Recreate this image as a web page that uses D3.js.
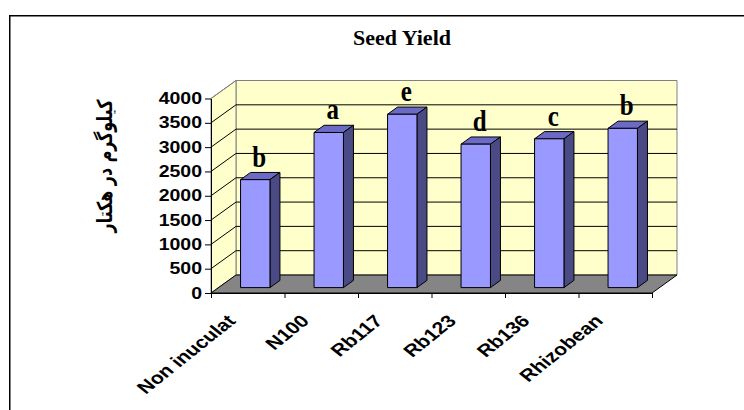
<!DOCTYPE html>
<html>
<head>
<meta charset="utf-8">
<script src="https://cdn.jsdelivr.net/npm/d3@7"></script>
<style>
  body { margin: 0; background: #fff; }
  svg { display: block; }
</style>
</head>
<body>
<script>
// seed yield per treatment (kg/ha)
var categories = ["Non inuculat", "N100", "Rb117", "Rb123", "Rb136", "Rhizobean"];
var yieldValues = [2220, 3190, 3565, 2950, 3060, 3275];
var groupLetters = ["b", "a", "e", "d", "c", "b"];
var yTicks = [0, 500, 1000, 1500, 2000, 2500, 3000, 3500, 4000];

var w = 744;
var h = 410;

// plot box (front edge) and 3d depth offset
var plotLeft = 211, plotRight = 652, plotBottom = 293, plotTop = 98.5;
var depthX = 25, depthY = -18;
var stretch = 1.3;

var svg = d3.select("body")
  .append("svg")
  .attr("width", w)
  .attr("height", h);

// outer frame, only top and left are inside the window
svg.append("rect")
  .attr("x", 9.75)
  .attr("y", 15.75)
  .attr("width", 800)
  .attr("height", 500)
  .attr("fill", "none")
  .attr("stroke", "#000")
  .attr("stroke-width", 1.5);

svg.append("text")
  .attr("x", 402)
  .attr("y", 45)
  .attr("text-anchor", "middle")
  .style("font-family", "'Liberation Serif', 'Times New Roman', serif")
  .style("font-weight", "bold")
  .style("font-size", "22px")
  .text("Seed Yield");

var xScale = d3.scaleBand()
  .domain(categories)
  .range([plotLeft, plotRight]);

var yScale = d3.scaleLinear()
  .domain([0, 4000])
  .range([plotBottom, plotTop]);

function pt(x, y, f) {
  return [x + depthX * f, y + depthY * f];
}

function poly(points) {
  return points.map(function(p) { return p.join(","); }).join(" ");
}

// back wall
svg.append("polygon")
  .attr("points", poly([pt(plotLeft, yScale(4000), 1), pt(plotRight, yScale(4000), 1),
                        pt(plotRight, yScale(0), 1), pt(plotLeft, yScale(0), 1)]))
  .attr("fill", "#ffffcc")
  .attr("stroke", "#808080");

// side wall
svg.append("polygon")
  .attr("points", poly([pt(plotLeft, yScale(4000), 0), pt(plotLeft, yScale(4000), 1),
                        pt(plotLeft, yScale(0), 1), pt(plotLeft, yScale(0), 0)]))
  .attr("fill", "#ffffcc")
  .attr("stroke", "#808080");

// gridlines on both walls
yTicks.slice(1).forEach(function(t) {
  var a = pt(plotLeft, yScale(t), 0), b = pt(plotLeft, yScale(t), 1), c = pt(plotRight, yScale(t), 1);
  svg.append("polyline")
    .attr("points", poly([a, b, c]))
    .attr("fill", "none")
    .attr("stroke", t == 4000 ? "#808080" : "#000")
    .attr("stroke-width", 1);
});

// floor
svg.append("polygon")
  .attr("points", poly([pt(plotLeft, yScale(0), 0), pt(plotRight, yScale(0), 0),
                        pt(plotRight, yScale(0), 1), pt(plotLeft, yScale(0), 1)]))
  .attr("fill", "#858585")
  .attr("stroke", "#000")
  .attr("stroke-width", 1);

// bars: front face at 30% depth, 40% deep
var f0 = 0.3, f1 = 0.7;
var barW = xScale.bandwidth() * 0.4;

var bars = svg.selectAll(".bar")
  .data(yieldValues)
  .enter()
  .append("g")
  .attr("class", "bar");

bars.each(function(v, i) {
  var g = d3.select(this);
  var x0 = xScale(categories[i]) + xScale.bandwidth() / 2 - barW / 2;
  var x1 = x0 + barW;
  var yb = yScale(0), yt = yScale(v);

  // top
  g.append("polygon")
    .attr("points", poly([pt(x0, yt, f0), pt(x1, yt, f0), pt(x1, yt, f1), pt(x0, yt, f1)]))
    .attr("fill", "#6b6bc6").attr("stroke", "#000");
  // side
  g.append("polygon")
    .attr("points", poly([pt(x1, yt, f0), pt(x1, yt, f1), pt(x1, yb, f1), pt(x1, yb, f0)]))
    .attr("fill", "#4a4a84").attr("stroke", "#000");
  // front
  g.append("polygon")
    .attr("points", poly([pt(x0, yt, f0), pt(x1, yt, f0), pt(x1, yb, f0), pt(x0, yb, f0)]))
    .attr("fill", "#9999ff").attr("stroke", "#000");

  // group letter
  var c = pt(x0 + barW / 2 + 4, yt, f0);
  g.append("text")
    .attr("transform", "translate(" + c[0] + "," + (c[1] - 13) + ") scale(1,1.17)")
    .attr("text-anchor", "middle")
    .style("font-family", "'Liberation Serif', 'Times New Roman', serif")
    .style("font-weight", "bold")
    .style("font-size", "25px")
    .text(groupLetters[i]);
});

// y axis
var yAxis = d3.axisLeft(yScale)
  .tickValues(yTicks)
  .tickFormat(d3.format("d"))
  .tickSize(6)
  .tickSizeOuter(0);

var gy = svg.append("g")
  .attr("transform", "translate(" + plotLeft + ",0)")
  .call(yAxis);

gy.select(".domain").attr("stroke", "#000");
gy.selectAll(".tick line").attr("stroke", "#000");
gy.selectAll(".tick text")
  .attr("x", 0)
  .attr("transform", "translate(-9,0) scale(" + stretch + ",1.05)")
  .style("font-family", "'Liberation Sans', Arial, sans-serif")
  .style("font-weight", "bold")
  .style("font-size", "15px")
  .attr("fill", "#000");

// x axis: ticks on category boundaries
var edgeScale = d3.scaleLinear()
  .domain([0, categories.length])
  .range([plotLeft, plotRight]);

var gx = svg.append("g")
  .attr("transform", "translate(0," + plotBottom + ")")
  .call(d3.axisBottom(edgeScale)
    .tickValues(d3.range(categories.length + 1))
    .tickFormat("")
    .tickSize(5)
    .tickSizeOuter(0));

gx.select(".domain").attr("stroke", "#000");
gx.selectAll(".tick line").attr("stroke", "#000");

// category labels
svg.selectAll(".cat")
  .data(categories)
  .enter()
  .append("text")
  .attr("class", "cat")
  .attr("transform", function(d) {
    var cx = xScale(d) + xScale.bandwidth() / 2 - 11;
    return "translate(" + cx + ",322) scale(1.25,1) rotate(-45)";
  })
  .attr("text-anchor", "end")
  .style("font-family", "'Liberation Sans', Arial, sans-serif")
  .style("font-weight", "bold")
  .style("font-size", "17px")
  .text(function(d) { return d; });

// y axis title (persian)
var yTitle = svg.append("text")
  .attr("text-anchor", "middle")
  .attr("dy", "0.35em")
  .style("font-family", "'DejaVu Sans', sans-serif")
  .style("font-weight", "bold")
  .style("font-size", "16px")
  .text("کیلوگرم در هکتار");

var len = yTitle.node().getComputedTextLength();
yTitle.attr("transform", "translate(105,166) scale(" + stretch + ",1) rotate(-90) scale(" + (133 / len) + ",1)");
</script>
</body>
</html>
